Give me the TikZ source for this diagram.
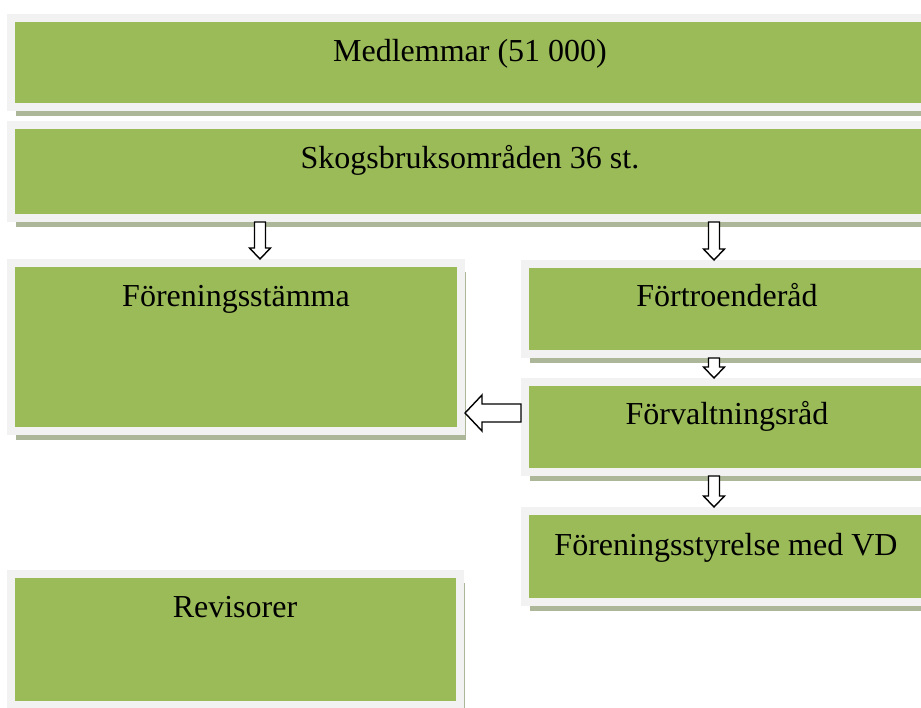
\documentclass[tikz,border=0pt]{standalone}
\usepackage{fontspec}
\setmainfont{Liberation Serif}
\usepackage{tikz}
\usetikzlibrary{calc}
\usetikzlibrary{shadows}

\definecolor{boxgreen}{RGB}{155,187,89}
\definecolor{framegray}{RGB}{242,242,242}
\definecolor{shadowgreen}{RGB}{172,182,152}

\begin{document}
\begin{tikzpicture}[
            x=1pt, y=-1pt,
            orgbox/.style={fill=boxgreen, draw=framegray, line width=8pt, inner sep=0pt,
                general shadow={shadow xshift=5pt, shadow yshift=-9pt, fill=shadowgreen}},
            boxlabel/.style={anchor=base, inner sep=0pt, font=\fontsize{32pt}{38pt}\selectfont},
            hollowarrow/.style={draw=black, fill=white, line width=1.4pt, line join=miter},
            downblock/.style={to path={
                let \p1=(\tikztostart), \p2=(\tikztotarget) in
                (\x1-5.5pt,\y1) -- (\x1+5.5pt,\y1) -- (\x1+5.5pt,\y2+11pt)
                -- (\x1+10.5pt,\y2+11pt) -- (\x1,\y2) -- (\x1-10.5pt,\y2+11pt)
                -- (\x1-5.5pt,\y2+11pt) -- cycle}},
            leftblock/.style={to path={
                let \p1=(\tikztostart), \p2=(\tikztotarget) in
                (\x1,\y1+9pt) -- (\x1,\y1-9pt) -- (\x2+17pt,\y1-9pt)
                -- (\x2+17pt,\y1-18pt) -- (\x2,\y1) -- (\x2+17pt,\y1+18pt)
                -- (\x2+17pt,\y1+9pt) -- cycle}}
        ]
            \useasboundingbox (0,0) rectangle (921,707);
            \fill[white] (0,0) rectangle (921,707);

            % boxes
            \node[orgbox, minimum width=933pt, minimum height=89pt] (medl) at (477.5,62.5) {};
            \node[orgbox, minimum width=933pt, minimum height=93pt] (skog) at (477.5,171.5) {};
            \node[orgbox, minimum width=450pt, minimum height=168pt] (stamma) at (236,347) {};
            \node[orgbox, minimum width=419pt, minimum height=90pt] (fortro) at (734.5,309) {};
            \node[orgbox, minimum width=419pt, minimum height=90pt] (forv) at (734.5,427) {};
            \node[orgbox, minimum width=419pt, minimum height=91pt] (styr) at (734.5,556.5) {};
            \node[orgbox, minimum width=449pt, minimum height=131pt] (revis) at (235.5,639.5) {};

            % labels
            \node[boxlabel] (medl-t) at (470,61) {Medlemmar (51 000)};
            \node[boxlabel] (skog-t) at (470,168) {Skogsbruksområden 36 st.};
            \node[boxlabel] (stamma-t) at (236,306) {Föreningsstämma};
            \node[boxlabel] (fortro-t) at (727,306) {Förtroenderåd};
            \node[boxlabel] (forv-t) at (727,424) {Förvaltningsråd};
            \node[boxlabel] (styr-t) at (726,555) {Föreningsstyrelse med VD};
            \node[boxlabel] (revis-t) at (235,617) {Revisorer};

            % arrows
            \coordinate (leftcol) at (260,0);
            \coordinate (rightcol) at (714,0);
            \draw[hollowarrow] (skog.south -| leftcol) to[downblock] (stamma.north -| leftcol);
            \draw[hollowarrow] (skog.south -| rightcol) to[downblock] (fortro.north -| rightcol);
            \draw[hollowarrow] (fortro.south -| rightcol) to[downblock] (forv.north -| rightcol);
            \draw[hollowarrow] (forv.south -| rightcol) to[downblock] (styr.north -| rightcol);
            \coordinate (forv-in) at ([yshift=14pt]forv.west);
            \draw[hollowarrow] (forv-in) to[leftblock] (stamma.east |- forv-in);

        \end{tikzpicture}
\end{document}
